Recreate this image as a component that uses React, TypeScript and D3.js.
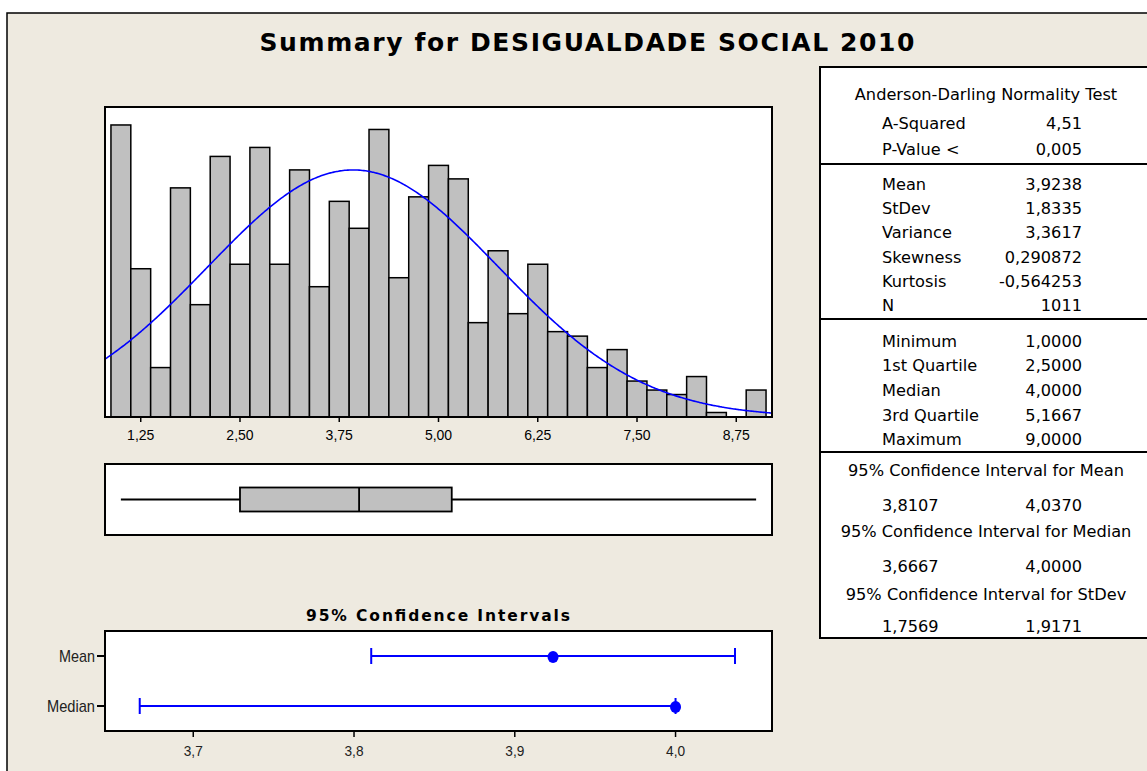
import React from "react";
import * as d3 from "d3";

// ---------------- data ----------------
const TITLE = "Summary for DESIGUALDADE SOCIAL 2010";

const binMids = [
  1.0, 1.25, 1.5, 1.75, 2.0, 2.25, 2.5, 2.75, 3.0, 3.25, 3.5, 3.75, 4.0, 4.25, 4.5, 4.75,
  5.0, 5.25, 5.5, 5.75, 6.0, 6.25, 6.5, 6.75, 7.0, 7.25, 7.5, 7.75, 8.0, 8.25, 8.5, 8.75, 9.0,
];
const binCounts = [
  65, 33, 11, 51, 25, 58, 34, 60, 34, 55, 29, 48, 42, 64, 31, 49,
  56, 53, 21, 37, 23, 34, 19, 18, 11, 15, 8, 6, 5, 9, 1, 0, 6,
];
const BIN_WIDTH = 0.25;
const histTicks = [1.25, 2.5, 3.75, 5.0, 6.25, 7.5, 8.75];

const N_OBS = 1011;
const MEAN = 3.9238;
const STDEV = 1.8335;

const boxKeys = ["min", "q1", "median", "q3", "max"];
const boxValues = [1.0, 2.5, 4.0, 5.1667, 9.0];

const ciCategories = ["Mean", "Median"];
const ciEstimates = [3.9238, 4.0];
const ciLower = [3.8107, 3.6667];
const ciUpper = [4.037, 4.0];
const ciTicks = [3.7, 3.8, 3.9, 4.0];

const adHeader = "Anderson-Darling Normality Test";
const adLabels = ["A-Squared", "P-Value <"];
const adValues = ["4,51", "0,005"];
const descLabels = ["Mean", "StDev", "Variance", "Skewness", "Kurtosis", "N"];
const descValues = ["3,9238", "1,8335", "3,3617", "0,290872", "-0,564253", "1011"];
const quartLabels = ["Minimum", "1st Quartile", "Median", "3rd Quartile", "Maximum"];
const quartValues = ["1,0000", "2,5000", "4,0000", "5,1667", "9,0000"];
const ciTableTitles = [
  "95% Confidence Interval for Mean",
  "95% Confidence Interval for Median",
  "95% Confidence Interval for StDev",
];
const ciTableLow = ["3,8107", "3,6667", "1,7569"];
const ciTableHigh = ["4,0370", "4,0000", "1,9171"];

// ---------------- layout ----------------
const W = 1147;
const H = 771;
const BG = "#EEEAE0";
const FRAME_X = 7;
const FRAME_Y = 13;

const PLOT_L = 105;
const PLOT_R = 772;
const HIST_T = 107;
const HIST_B = 417;
const BOX_T = 464;
const BOX_B = 535;
const CI_T = 631;
const CI_B = 731;

const TAB_L = 820;
const TAB_R = 1165;
const TAB_T = 67;
const TAB_B = 638;
const TAB_SEP = [164, 319, 452];
const TAB_CX = 986;
const LABEL_X = 882;
const VALUE_X = 1082;

const locale = d3.formatLocale({ decimal: ",", thousands: ".", grouping: [3], currency: ["", ""] });
const fmt2 = locale.format(".2f");
const fmt1 = locale.format(".1f");

const TICK_FONT = "'Liberation Sans', Arial, sans-serif";
const TAB_FONT = "'DejaVu Sans', Verdana, sans-serif";

export default function App() {
  const x = d3.scaleLinear().domain([0.8, 9.2]).range([PLOT_L, PLOT_R]);
  const y = d3.scaleLinear().domain([0, 69]).range([HIST_B, HIST_T]);

  const sdNorm = STDEV * Math.sqrt(2 * Math.PI);
  const curvePts: [number, number][] = d3
    .range(0.8, 9.2001, 0.02)
    .map((v) => [v, (N_OBS * BIN_WIDTH * Math.exp(-0.5 * ((v - MEAN) / STDEV) ** 2)) / sdNorm]);
  const curve = d3
    .line<[number, number]>()
    .x((d) => x(d[0]))
    .y((d) => y(d[1]))
    .curve(d3.curveBasis)(curvePts);

  const bs: Record<string, number> = {};
  boxKeys.forEach((k, i) => (bs[k] = boxValues[i]));
  const boxMid = (BOX_T + BOX_B) / 2;
  const boxH = 24;

  const xc = d3.scaleLinear().domain([3.6451, 4.06]).range([PLOT_L, PLOT_R]);
  const yc = d3.scalePoint<string>().domain(ciCategories).range([CI_T, CI_B]).padding(0.5);

  // table rows
  const adY = [129, 155];
  const descY = [190, 214, 238, 263, 287, 311];
  const quartY = [347, 371, 396, 421, 445];
  const ciHeadY = [476, 537, 600];
  const ciValY = [511, 572, 632];

  return (
    <svg
      width={W}
      height={H}
      style={{ position: "absolute", left: 0, top: 0, display: "block" }}
      xmlns="http://www.w3.org/2000/svg"
    >
      <rect x={0} y={0} width={W} height={H} fill="#FFFFFF" />
      <rect x={FRAME_X} y={FRAME_Y} width={W - FRAME_X + 5} height={H - FRAME_Y + 5} fill={BG} stroke="#000" strokeWidth={1.5} />

      {/* Title */}
      <text
        x={587}
        y={51}
        textAnchor="middle"
        fontFamily="'DejaVu Sans', Verdana, sans-serif"
        fontWeight="bold"
        fontSize={25}
        textLength={655}
        lengthAdjust="spacing"
        fill="#000"
      >
        {TITLE}
      </text>

      {/* Histogram */}
      <rect x={PLOT_L} y={HIST_T} width={PLOT_R - PLOT_L} height={HIST_B - HIST_T} fill="#FFFFFF" />
      {binMids.map((m, i) =>
        binCounts[i] > 0 ? (
          <rect
            key={"b" + i}
            x={x(m - BIN_WIDTH / 2)}
            y={y(binCounts[i])}
            width={x(m + BIN_WIDTH / 2) - x(m - BIN_WIDTH / 2)}
            height={y(0) - y(binCounts[i])}
            fill="#C0C0C0"
            stroke="#000"
            strokeWidth={1.5}
          />
        ) : null
      )}
      <path d={curve || ""} fill="none" stroke="#0000FF" strokeWidth={1.6} />
      <rect x={PLOT_L} y={HIST_T} width={PLOT_R - PLOT_L} height={HIST_B - HIST_T} fill="none" stroke="#000" strokeWidth={2} />
      {histTicks.map((t) => (
        <g key={"ht" + t}>
          <line x1={x(t)} x2={x(t)} y1={HIST_B} y2={HIST_B + 5} stroke="#000" strokeWidth={1.5} />
          <text x={x(t)} y={440} textAnchor="middle" fontFamily={TICK_FONT} fontSize={14} fill="#000">
            {fmt2(t)}
          </text>
        </g>
      ))}

      {/* Boxplot */}
      <rect x={PLOT_L} y={BOX_T} width={PLOT_R - PLOT_L} height={BOX_B - BOX_T} fill="#FFFFFF" stroke="#000" strokeWidth={2} />
      <line x1={x(bs.min)} x2={x(bs.q1)} y1={boxMid} y2={boxMid} stroke="#000" strokeWidth={1.8} />
      <line x1={x(bs.q3)} x2={x(bs.max)} y1={boxMid} y2={boxMid} stroke="#000" strokeWidth={1.8} />
      <rect
        x={x(bs.q1)}
        y={boxMid - boxH / 2}
        width={x(bs.q3) - x(bs.q1)}
        height={boxH}
        fill="#C0C0C0"
        stroke="#000"
        strokeWidth={1.8}
      />
      <line x1={x(bs.median)} x2={x(bs.median)} y1={boxMid - boxH / 2} y2={boxMid + boxH / 2} stroke="#000" strokeWidth={1.8} />

      {/* CI plot */}
      <text
        x={438}
        y={621}
        textAnchor="middle"
        fontFamily="'DejaVu Sans', Verdana, sans-serif"
        fontWeight="bold"
        fontSize={15.5}
        textLength={264}
        lengthAdjust="spacing"
        fill="#000"
      >
        95% Confidence Intervals
      </text>
      <rect x={PLOT_L} y={CI_T} width={PLOT_R - PLOT_L} height={CI_B - CI_T} fill="#FFFFFF" stroke="#000" strokeWidth={2} />
      {ciCategories.map((c, i) => {
        const cy = yc(c) as number;
        return (
          <g key={"ci" + c}>
            <line x1={97} x2={PLOT_L} y1={cy} y2={cy} stroke="#000" strokeWidth={2} />
            <text
              x={95}
              y={cy + 6}
              textAnchor="end"
              fontFamily={TICK_FONT}
              fontSize={17}
              textLength={c === "Mean" ? 36 : 48}
              lengthAdjust="spacingAndGlyphs"
              fill="#222"
            >
              {c}
            </text>
            <line x1={xc(ciLower[i])} x2={xc(ciUpper[i])} y1={cy} y2={cy} stroke="#0000FF" strokeWidth={2} />
            <line x1={xc(ciLower[i])} x2={xc(ciLower[i])} y1={cy - 8} y2={cy + 8} stroke="#0000FF" strokeWidth={2} />
            <line x1={xc(ciUpper[i])} x2={xc(ciUpper[i])} y1={cy - 8} y2={cy + 8} stroke="#0000FF" strokeWidth={2} />
            <ellipse cx={xc(ciEstimates[i])} cy={cy + 1} rx={5.5} ry={6} fill="#0000FF" />
          </g>
        );
      })}
      {ciTicks.map((t) => (
        <g key={"ct" + t}>
          <line x1={xc(t)} x2={xc(t)} y1={CI_B} y2={CI_B + 6} stroke="#000" strokeWidth={1.5} />
          <text
            x={xc(t)}
            y={756}
            textAnchor="middle"
            fontFamily={TICK_FONT}
            fontSize={15}
            textLength={19}
            lengthAdjust="spacingAndGlyphs"
            fill="#222"
          >
            {fmt1(t)}
          </text>
        </g>
      ))}

      {/* Table */}
      <rect x={TAB_L} y={TAB_T} width={TAB_R - TAB_L} height={TAB_B - TAB_T} fill="#FFFFFF" stroke="#000" strokeWidth={2} />
      {TAB_SEP.map((s) => (
        <line key={"s" + s} x1={TAB_L} x2={TAB_R} y1={s} y2={s} stroke="#000" strokeWidth={2} />
      ))}
      <g fontFamily={TAB_FONT} fontSize={16.2} fill="#000">
        <text x={TAB_CX} y={100} textAnchor="middle">
          {adHeader}
        </text>
        {adLabels.map((l, i) => (
          <g key={"ad" + i}>
            <text x={LABEL_X} y={adY[i]}>{l}</text>
            <text x={VALUE_X} y={adY[i]} textAnchor="end">{adValues[i]}</text>
          </g>
        ))}
        {descLabels.map((l, i) => (
          <g key={"de" + i}>
            <text x={LABEL_X} y={descY[i]}>{l}</text>
            <text x={VALUE_X} y={descY[i]} textAnchor="end">{descValues[i]}</text>
          </g>
        ))}
        {quartLabels.map((l, i) => (
          <g key={"qu" + i}>
            <text x={LABEL_X} y={quartY[i]}>{l}</text>
            <text x={VALUE_X} y={quartY[i]} textAnchor="end">{quartValues[i]}</text>
          </g>
        ))}
        {ciTableTitles.map((l, i) => (
          <g key={"ct" + i}>
            <text x={TAB_CX} y={ciHeadY[i]} textAnchor="middle">{l}</text>
            <text x={LABEL_X} y={ciValY[i]}>{ciTableLow[i]}</text>
            <text x={VALUE_X} y={ciValY[i]} textAnchor="end">{ciTableHigh[i]}</text>
          </g>
        ))}
      </g>
    </svg>
  );
}
